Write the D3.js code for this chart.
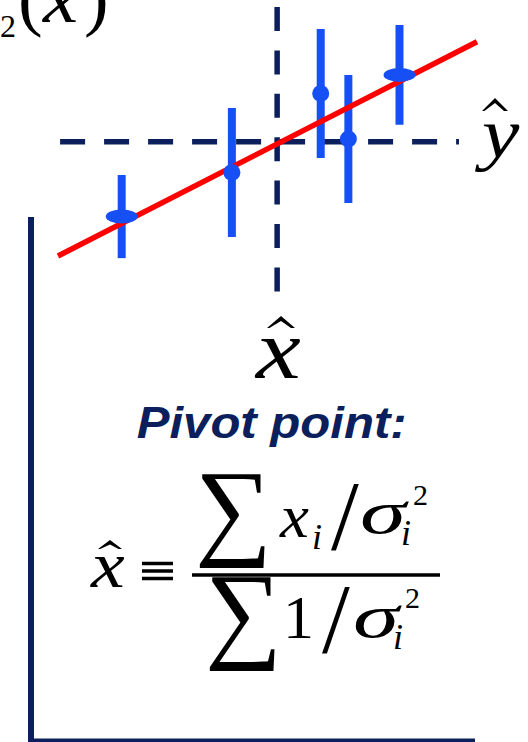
<!DOCTYPE html>
<html>
<head>
<meta charset="utf-8">
<script src="https://cdn.jsdelivr.net/npm/d3@7"></script>
<style>
  html, body { margin: 0; padding: 0; background: #fff; }
  svg { display: block; }
</style>
</head>
<body>
<svg id="chart" width="528" height="742"></svg>
<script>
// Measurements with vertical error bars
const xVals = [1.52, 4.15, 6.27, 6.93, 8.15];
const yVals = [1.84, 3.90, 7.58, 5.46, 8.45];
const yErrs = [1.94, 3.01, 3.01, 2.99, 2.33];
const xErrs = [0.38, 0, 0, 0, 0.38];

// Fitted straight line (end points)
const fitX = [0, 10];
const fitY = [0, 10];

// Pivot point and extent of the guide lines through it
const pivotX = 5.23;
const pivotY = 5.33;
const guideYExtent = [-1.68, 11.62];
const guideXExtent = [0.05, 9.57];

const NAVY = "#0b1f5c";
const BLUE = "#1650f5";
const RED = "#ff0000";
const SERIF = "'Liberation Serif', 'Times New Roman', serif";
const SANS = "'Liberation Sans', Arial, Helvetica, sans-serif";

const svg = d3.select("#chart");
const x = d3.scaleLinear().domain([0, 10]).range([58, 477]);
const y = d3.scaleLinear().domain([0, 10]).range([256, 41.7]);

// circumflex accent drawn above a symbol
function hat(g, cx, top, w, h, t) {
  t = t || 4;
  const p = d3.path();
  p.moveTo(cx - w / 2, top + h);
  p.lineTo(cx, top);
  p.lineTo(cx + w / 2, top + h);
  p.lineTo(cx + w / 2 - t, top + h);
  p.lineTo(cx, top + t + 1);
  p.lineTo(cx - w / 2 + t * 0.6, top + h);
  p.closePath();
  g.append("path").attr("d", p.toString()).attr("fill", "#000");
}

// a text glyph, optionally stretched horizontally
function glyph(g, s, gx, gy, size, opts) {
  opts = opts || {};
  const t = g.append("text")
    .attr("transform", `translate(${gx},${gy}) scale(${opts.sx || 1},1)`)
    .attr("font-size", size)
    .text(s);
  if (opts.italic) t.attr("font-style", "italic");
  if (opts.anchor) t.attr("text-anchor", opts.anchor);
  return t;
}

// Truncated axis title in the top-left corner
const title = svg.append("g").attr("font-family", SERIF).attr("fill", "#000");
glyph(title, "2", 0, 37, 32);
glyph(title, "(", 18, 22, 74);
glyph(title, "x", 43, 22, 72, { italic: true, sx: 1.1 });
glyph(title, ")", 84, 22, 74);

// Frame of the outer plot
svg.append("path")
  .attr("d", "M31,217 V742")
  .attr("stroke", NAVY).attr("stroke-width", 6).attr("fill", "none");
svg.append("path")
  .attr("d", "M28,740.5 H475")
  .attr("stroke", NAVY).attr("stroke-width", 4).attr("fill", "none");

// Dashed guides through the pivot point
svg.append("line")
  .attr("x1", x(pivotX)).attr("x2", x(pivotX))
  .attr("y1", y(guideYExtent[1])).attr("y2", y(guideYExtent[0]))
  .attr("stroke", NAVY).attr("stroke-width", 5.5)
  .attr("stroke-dasharray", "24 19.4");
svg.append("line")
  .attr("x1", x(guideXExtent[0])).attr("x2", x(guideXExtent[1]))
  .attr("y1", y(pivotY)).attr("y2", y(pivotY))
  .attr("stroke", NAVY).attr("stroke-width", 5.5)
  .attr("stroke-dasharray", "25 19");

// Error bars
const pts = xVals.map((v, i) => ({ x: v, y: yVals[i], ey: yErrs[i], ex: xErrs[i] }));
svg.append("g").selectAll("line").data(pts).join("line")
  .attr("x1", d => x(d.x)).attr("x2", d => x(d.x))
  .attr("y1", d => y(d.y + d.ey)).attr("y2", d => y(d.y - d.ey))
  .attr("stroke", BLUE).attr("stroke-width", 8);

// Fitted line
svg.append("line")
  .attr("x1", x(fitX[0])).attr("y1", y(fitY[0]))
  .attr("x2", x(fitX[1])).attr("y2", y(fitY[1]))
  .attr("stroke", RED).attr("stroke-width", 5.5);

// Markers
svg.append("g").selectAll("ellipse").data(pts).join("ellipse")
  .attr("cx", d => x(d.x)).attr("cy", d => y(d.y))
  .attr("rx", d => d.ex > 0 ? x(d.ex) - x(0) : 8.5)
  .attr("ry", d => d.ex > 0 ? 7 : 8.5)
  .attr("fill", BLUE);

// Guide labels
const lab = svg.append("g").attr("font-family", SERIF).attr("fill", "#000");
glyph(lab, "y", 482, 157, 70, { italic: true, sx: 1.2 });
hat(svg, 495, 98, 26, 13);
glyph(lab, "x", 256, 378, 84, { italic: true, sx: 1.2 });
hat(svg, 281, 316, 28, 12);

// "Pivot point:" heading
svg.append("text")
  .attr("x", 136.7).attr("y", 437.7)
  .attr("font-family", SANS).attr("font-weight", "bold").attr("font-style", "italic")
  .attr("font-size", 44).attr("fill", NAVY)
  .attr("textLength", 270).attr("lengthAdjust", "spacingAndGlyphs")
  .text("Pivot point:");

// Weighted-mean formula
const f = svg.append("g").attr("font-family", SERIF).attr("fill", "#000");
glyph(f, "x", 91, 587, 66, { italic: true, sx: 1.15 });
hat(svg, 110, 540, 24, 9, 3.5);
// identity sign
[563.5, 571, 578.5].forEach(yy => {
  svg.append("rect").attr("x", 142).attr("y", yy - 1.75).attr("width", 31).attr("height", 3.5).attr("fill", "#000");
});
svg.append("line").attr("x1", 192).attr("x2", 440).attr("y1", 575).attr("y2", 575)
  .attr("stroke", "#000").attr("stroke-width", 3.5);

// numerator
glyph(f, "\u2211", 195, 545, 108);
glyph(f, "x", 280, 537, 62, { italic: true, sx: 1.05 });
glyph(f, "i", 312, 549, 36, { italic: true });
glyph(f, "/", 345, 549, 100, { anchor: "middle" });
glyph(f, "\u03c3", 360, 533, 62, { italic: true, sx: 1.5 });
glyph(f, "2", 413, 505, 30);
glyph(f, "i", 401, 545, 36, { italic: true });

// denominator
glyph(f, "\u2211", 205, 648, 108);
glyph(f, "1", 283, 638, 62);
glyph(f, "/", 336, 652, 100, { anchor: "middle" });
glyph(f, "\u03c3", 353, 637, 62, { italic: true, sx: 1.5 });
glyph(f, "2", 405, 608, 30);
glyph(f, "i", 393, 649, 36, { italic: true });
</script>
</body>
</html>
